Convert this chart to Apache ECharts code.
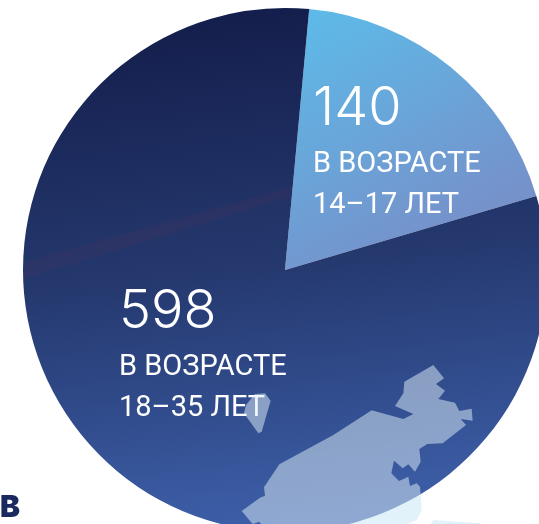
<!DOCTYPE html>
<html>
<head>
<meta charset="utf-8">
<style>
html,body{margin:0;padding:0;background:#fff;overflow:hidden}
#main{width:539px;height:524px}
</style>
<script src="https://cdn.jsdelivr.net/npm/echarts@6/dist/echarts.min.js"></script>
</head>
<body>
<div id="main"></div>
<script>
// данные
var ageNames = ['В ВОЗРАСТЕ\n14–17 ЛЕТ', 'В ВОЗРАСТЕ\n18–35 ЛЕТ'];
var ageValues = [140, 598];

var myChart = echarts.init(document.getElementById('main'));

function mapPoints(list){
    return list.map(function(p){ return [p[0]/3+220, p[1]/3+350]; });
}
var landMain = mapPoints([[640,45],[672,85],[648,102],[675,122],[655,147],[705,158],[718,183],[755,176],[758,212],[722,207],[738,225],[668,280],[622,282],[598,297],[602,335],[585,365],[565,343],[548,355],[522,332],[514,370],[537,393],[565,380],[570,408],[590,400],[600,410],[605,480],[590,510],[555,525],[125,525],[118,515],[98,522],[65,483],[120,443],[135,437],[132,412],[178,343],[340,255],[455,181],[550,207],[580,192],[525,168],[550,130],[553,95]]);
var landIsland = mapPoints([[105,132],[135,130],[152,152],[125,245],[115,250],[72,190],[78,165]]);
var landBottom = mapPoints([[640,510],[780,520],[790,525],[630,525]]);

function land(points, under){
    return {
        type: 'polygon',
        silent: true,
        z: under ? 0 : 2,
        z2: under ? 0 : 5,
        shape: {points: points},
        style: {fill: under ? '#e1f2fa' : 'rgba(225,242,250,0.5)'}
    };
}

myChart.setOption({
    animation: false,
    graphic: [
        land(landMain, true),
        land(landBottom, true),
        land(landMain, false),
        land(landIsland, false),
        // светлая полоса на тёмном секторе
        {
            type: 'polygon',
            silent: true,
            z: 2,
            z2: 5,
            shape: {points: [[24,262],[291,187],[290,197],[24,279]]},
            style: {fill: 'rgba(70,50,90,0.25)'}
        },
        {
            type: 'text',
            silent: true,
            left: 0,
            top: 493,
            style: {text: 'В', font: '900 30px "Inter"', fill: '#1b2a5e'}
        }
    ],
    series: [
        {
            type: 'pie',
            center: [285, 270],
            radius: [0, 262],
            startAngle: 84.7,
            clockwise: true,
            silent: true,
            labelLine: {show: false},
            label: {
                show: true,
                position: 'inside',
                color: '#fff',
                align: 'left',
                formatter: function(p){
                    var lines = p.name.split('\n');
                    return '{num|' + p.value + '}\n{txt|' + lines[0] + '}\n{txt|' + lines[1] + '}';
                },
                rich: {
                    num: {fontFamily: 'Inter', fontSize: 54, fontWeight: 300, color: '#fff', lineHeight: 70, align: 'left'},
                    txt: {fontFamily: 'Roboto', fontSize: 29, fontWeight: 400, color: '#fff', lineHeight: 41, align: 'left'}
                }
            },
            labelLayout: function(p){
                return p.dataIndex === 0
                    ? {x: 313, y: 74, align: 'left', verticalAlign: 'top'}
                    : {x: 119, y: 277, align: 'left', verticalAlign: 'top'};
            },
            data: [
                {
                    value: ageValues[0],
                    name: ageNames[0],
                    itemStyle: {color: new echarts.graphic.LinearGradient(300, 20, 420, 240, [
                        {offset: 0, color: '#5dbae8'},
                        {offset: 1, color: '#7592cb'}
                    ], true)}
                },
                {
                    value: ageValues[1],
                    name: ageNames[1],
                    itemStyle: {color: new echarts.graphic.LinearGradient(240, 10, 300, 524, [
                        {offset: 0, color: '#141e4c'},
                        {offset: 0.5, color: '#25396f'},
                        {offset: 1, color: '#3d5fa9'}
                    ], true)}
                }
            ]
        }
    ]
});
</script>
</body>
</html>
